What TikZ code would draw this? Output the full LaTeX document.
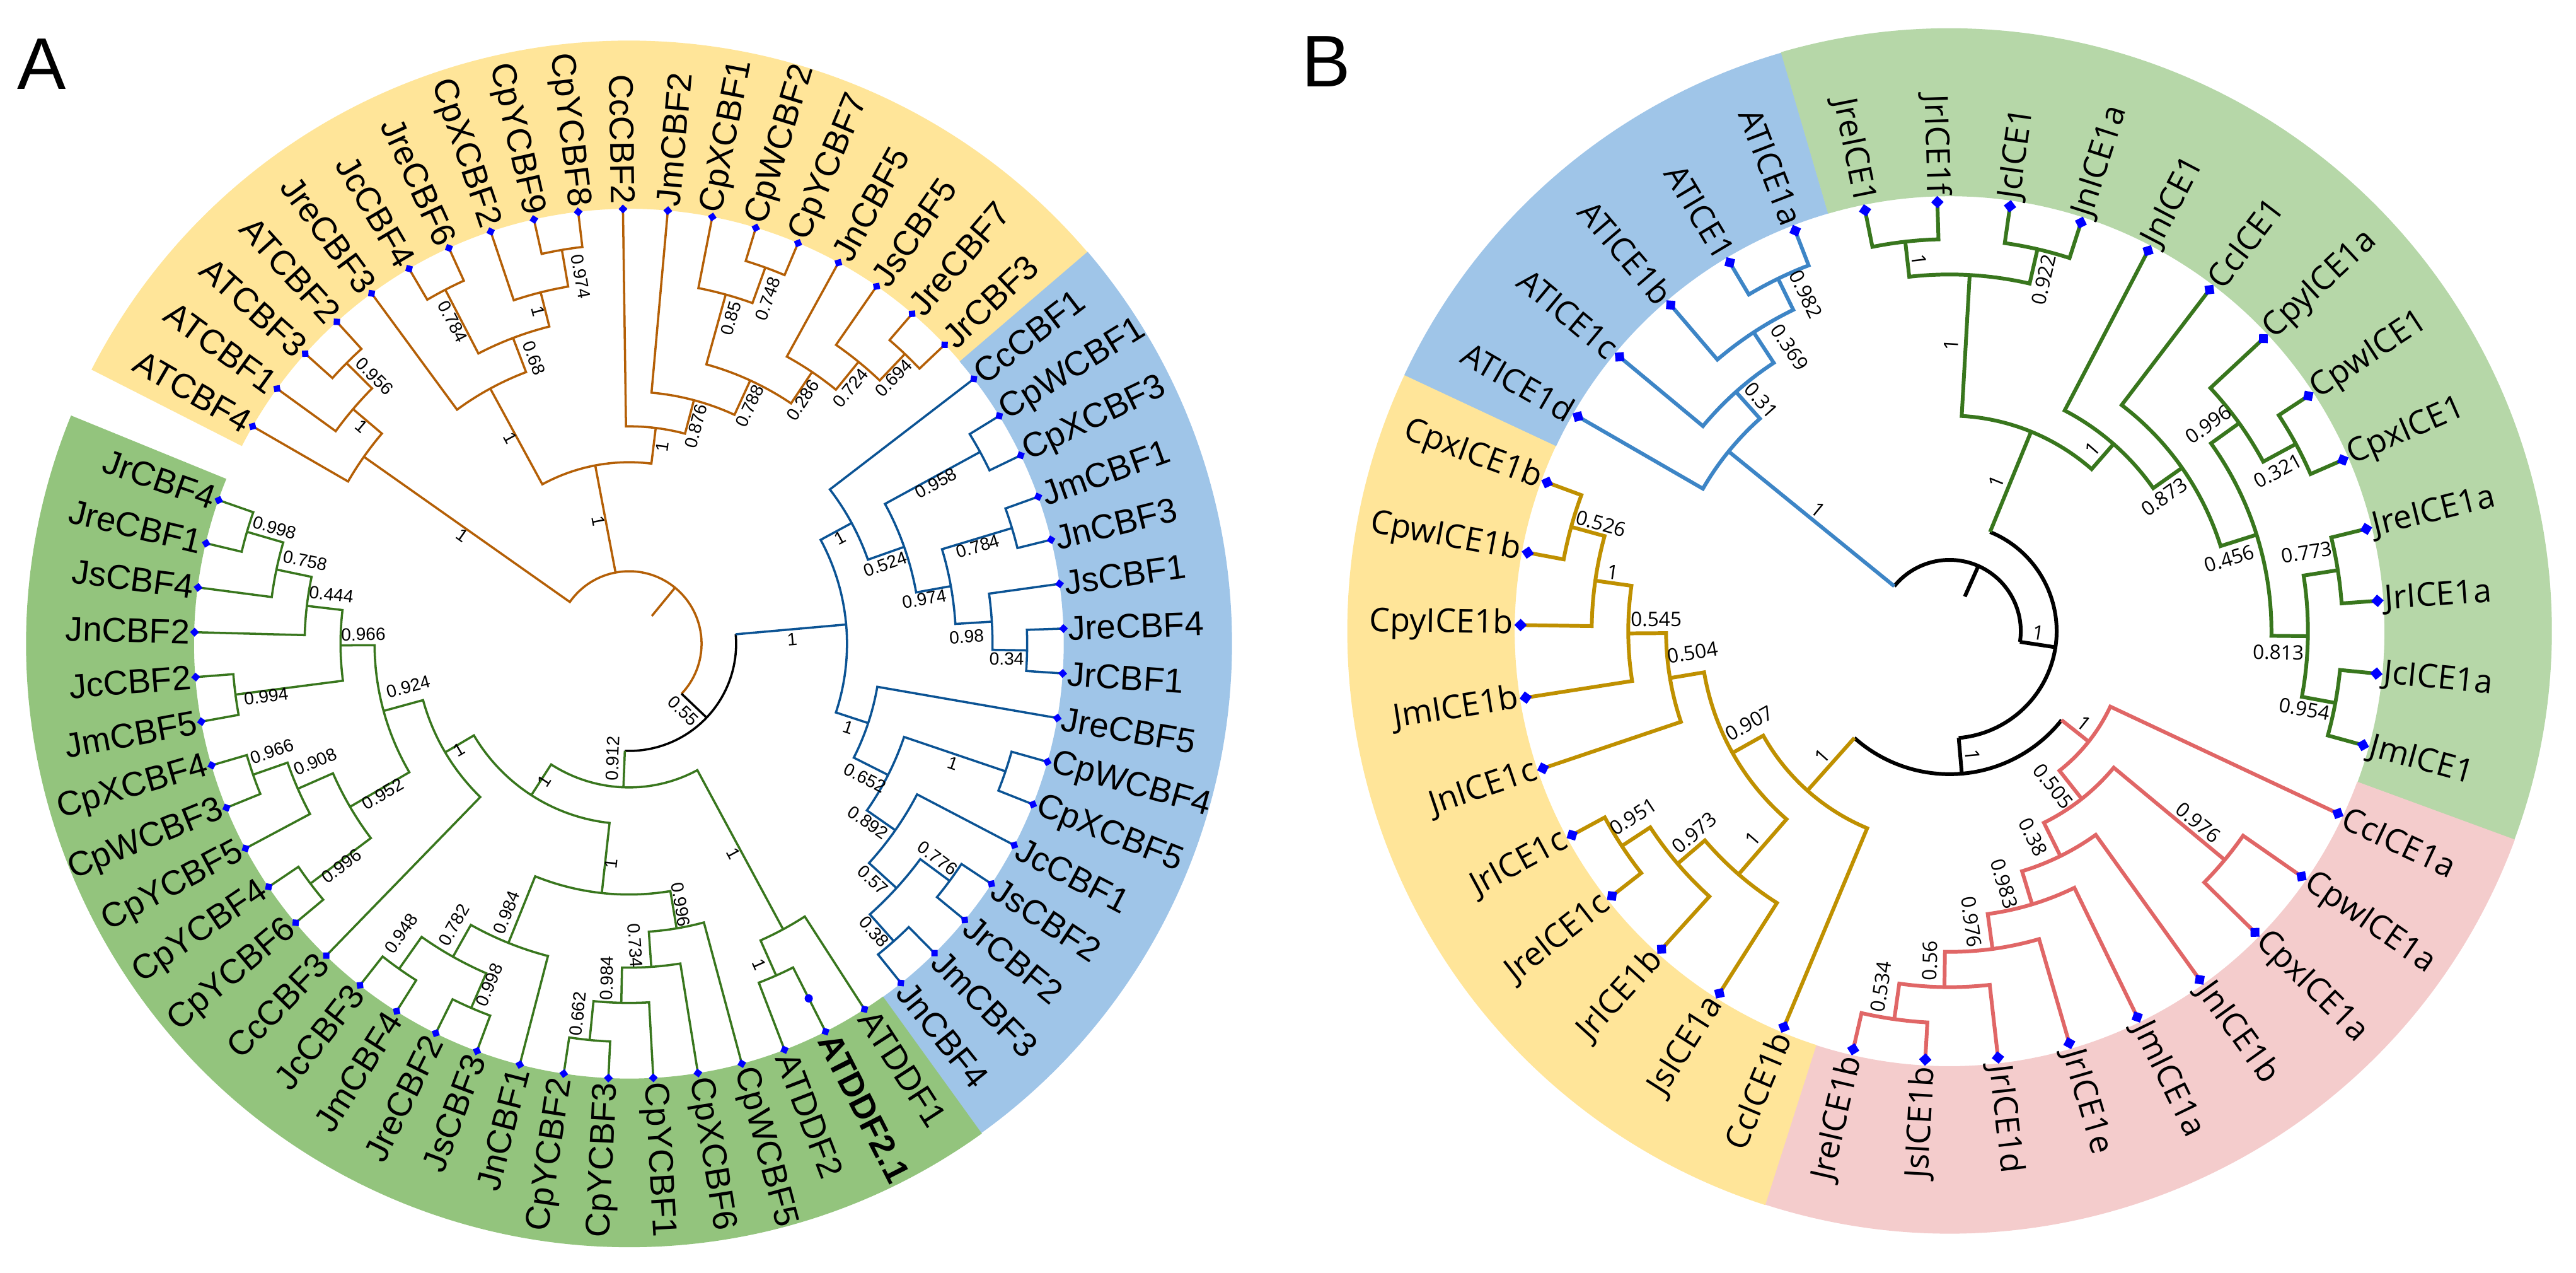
\documentclass[tikz,border=0pt]{standalone}
\usepackage{fontspec}
\setmainfont{Liberation Sans}
\newfontfamily\fB{Open Sans}
\definecolor{bandY}{HTML}{FFE599}
\definecolor{bandBl}{HTML}{9FC5E8}
\definecolor{bandGA}{HTML}{93C47D}
\definecolor{bandGB}{HTML}{B6D7A8}
\definecolor{bandP}{HTML}{F4CCCC}
\definecolor{trO}{HTML}{B45F06}
\definecolor{trBA}{HTML}{0B5394}
\definecolor{trG}{HTML}{38761D}
\definecolor{trBB}{HTML}{3D85C6}
\definecolor{trY}{HTML}{BF9000}
\definecolor{trP}{HTML}{E06666}
\definecolor{mk}{HTML}{0000FF}
\tikzset{
 lblA/.style={inner sep=0pt,font=\fontsize{15.5}{18}\selectfont},
 lblB/.style={inner sep=0pt,font=\fB\fontsize{14.8}{17}\selectfont},
 mkA/.style={fill=mk,inner sep=0pt,minimum size=0.1cm,shape=rectangle},
 mkB/.style={fill=mk,inner sep=0pt,minimum size=0.14cm,shape=rectangle},
 supA/.style={inner sep=0pt,font=\fontsize{8}{9}\selectfont},
 supB/.style={inner sep=0pt,font=\fB\fontsize{9}{10}\selectfont},
 panel/.style={anchor=base west,inner sep=0pt,font=\fontsize{33}{36}\selectfont},
}
\newcounter{spc}
% internal node: radius, angle1, r1, angle2, r2
\newcommand\nd[5]{\draw (#2:#3) -- (#2:#1) arc[start angle=#2,end angle=#4,radius=#1*0.1mm] -- (#4:#5);}
\newcommand\band[4]{\fill[#1] (#2:690) arc[start angle=#2,end angle=#3,radius=69mm] -- (#3:#4) arc[start angle=#3,end angle=#2,radius=#4*0.1mm] -- cycle;}
\newcommand\leaf[7]{%
  \pgfmathsetmacro\lfcos{cos(#4)}%
  \ifdim\lfcos pt<0pt\relax
    \node[#1,anchor=east,rotate=#4+180] (#3) at (#4:#6) {#7};%
  \else
    \node[#1,anchor=west,rotate=#4] (#3) at (#4:#6) {#7};%
  \fi
  \node[#2,rotate=#4+45] (#3m) at (#4:#5) {};}
\newcommand\lfa[3]{\leaf{lblA}{mkA}{#1}{#2}{690}{697}{#3}}
\newcommand\lfb[3]{\leaf{lblB}{mkB}{#1}{#2}{681}{692}{#3}}
\newcommand\spl[5]{%
  \pgfmathsetmacro\lfcos{cos(#2)}%
  \ifdim\lfcos pt<0pt\relax\def\lrot{#2+180}\else\def\lrot{#2}\fi
  \stepcounter{spc}%
  \node[#1,rotate=\lrot] (sp\thespc) at (#3:#4) {#5};}
\newcommand\spa[4]{\spl{supA}{#1}{#2}{#3}{#4}}
\newcommand\spb[4]{\spl{supB}{#1}{#2}{#3}{#4}}
\begin{document}
\begin{tikzpicture}
\useasboundingbox (0,0) rectangle (40.87,20.19);
\node[panel] (labA) at (0.27,18.77) {A};
\node[panel] (labB) at (20.645,18.81) {B};

%================ TREE A =================
\begin{scope}[shift={(9.98cm,9.98cm)},x=0.01cm,y=0.01cm]
\band{bandY}{152.96}{40.48}{957}
\band{bandBl}{40.48}{-54.24}{957}
\band{bandGA}{-54.24}{-202.24}{957}
\begin{scope}[line width=1pt]
 \begin{scope}[trO]
  \nd{632}{138.16}{690}{132.24}{690}
  \nd{575}{144.08}{690}{135.20}{632}
  \nd{515}{150.00}{690}{139.64}{575}
  \nd{633}{120.40}{690}{114.48}{690}
  \nd{634}{102.64}{690}{96.72}{690}
  \nd{575}{108.56}{690}{99.68}{634}
  \nd{519}{117.44}{633}{104.12}{575}
  \nd{461}{126.32}{690}{110.78}{519}
  \nd{635}{73.04}{690}{67.12}{690}
  \nd{575}{78.96}{690}{70.08}{635}
  \nd{635}{49.36}{690}{43.44}{690}
  \nd{577}{55.28}{690}{46.40}{635}
  \nd{520}{61.20}{690}{50.84}{577}
  \nd{460}{74.52}{575}{56.02}{520}
  \nd{400}{84.88}{690}{65.27}{460}
  \nd{345}{90.80}{690}{75.08}{400}
  \nd{288}{118.55}{461}{82.94}{345}
  \draw (144.82:515) -- (144.82:115) arc[start angle=144.82,end angle=-43.59,radius=11.5mm];
  \draw (100.74:115) -- (100.74:288);
  \draw (50.6:57) -- (50.6:115);
 \end{scope}
 \begin{scope}[black]
  \draw (5.06:170) arc[start angle=5.06,end angle=-92.24,radius=17mm];
  \draw (-43.59:115) -- (-43.59:170);
 \end{scope}
 \begin{scope}[trBA]
  \draw (5.06:170) -- (5.06:346);
  \nd{635}{31.60}{690}{25.68}{690}
  \nd{635}{19.76}{690}{13.84}{690}
  \nd{632}{2.00}{690}{-3.92}{690}
  \nd{577}{7.92}{690}{-0.96}{632}
  \nd{519}{16.80}{635}{3.48}{577}
  \nd{463}{28.64}{635}{10.14}{519}
  \nd{402}{37.52}{690}{19.39}{463}
  \nd{631}{-15.76}{690}{-21.68}{690}
  \nd{633}{-33.52}{690}{-39.44}{690}
  \nd{632}{-45.36}{690}{-51.28}{690}
  \nd{575}{-36.48}{633}{-48.32}{632}
  \nd{516}{-27.60}{690}{-42.40}{575}
  \nd{461}{-18.72}{631}{-35.00}{516}
  \nd{400}{-9.84}{690}{-26.86}{461}
  \nd{346}{28.46}{402}{-18.35}{400}
 \end{scope}
 \begin{scope}[trG]
  \draw (-92.24:170) -- (-92.24:228);
  \nd{576}{-63.12}{690}{-69.04}{690}
  \nd{515}{-57.20}{690}{-66.08}{576}
  \nd{632}{-92.72}{690}{-98.64}{690}
  \nd{570}{-86.80}{690}{-95.68}{632}
  \nd{514}{-80.88}{690}{-91.24}{570}
  \nd{458}{-74.96}{690}{-86.06}{514}
  \nd{630}{-110.48}{690}{-116.40}{690}
  \nd{632}{-122.32}{690}{-128.24}{690}
  \nd{570}{-113.44}{630}{-125.28}{632}
  \nd{512}{-104.56}{690}{-119.36}{570}
  \nd{398}{-80.51}{458}{-111.96}{512}
  \nd{633}{-140.08}{690}{-146.00}{690}
  \nd{632}{-157.84}{690}{-163.76}{690}
  \nd{574}{-151.92}{690}{-160.80}{632}
  \nd{513}{-143.04}{633}{-156.36}{574}
  \nd{632}{-199.28}{690}{-193.36}{690}
  \nd{572}{-187.44}{690}{-196.32}{632}
  \nd{515}{-181.52}{690}{-191.88}{572}
  \nd{630}{-175.60}{690}{-169.68}{690}
  \nd{458}{-186.70}{515}{-172.64}{630}
  \nd{404}{-179.67}{458}{-149.70}{513}
  \nd{339}{-164.69}{404}{-134.16}{690}
  \nd{286}{-149.43}{339}{-96.24}{398}
  \nd{228}{-122.84}{286}{-61.64}{515}
 \end{scope}
\end{scope}
\fill[mk] (-63.12:631) circle[radius=0.065cm];
% leaves A
\lfa{a0}{150.00}{ATCBF4}
\lfa{a1}{144.08}{ATCBF1}
\lfa{a2}{138.16}{ATCBF3}
\lfa{a3}{132.24}{ATCBF2}
\lfa{a4}{126.32}{JreCBF3}
\lfa{a5}{120.40}{JcCBF4}
\lfa{a6}{114.48}{JreCBF6}
\lfa{a7}{108.56}{CpXCBF2}
\lfa{a8}{102.64}{CpYCBF9}
\lfa{a9}{96.72}{CpYCBF8}
\lfa{a10}{90.80}{CcCBF2}
\lfa{a11}{84.88}{JmCBF2}
\lfa{a12}{78.96}{CpXCBF1}
\lfa{a13}{73.04}{CpWCBF2}
\lfa{a14}{67.12}{CpYCBF7}
\lfa{a15}{61.20}{JnCBF5}
\lfa{a16}{55.28}{JsCBF5}
\lfa{a17}{49.36}{JreCBF7}
\lfa{a18}{43.44}{JrCBF3}
\lfa{a19}{37.52}{CcCBF1}
\lfa{a20}{31.60}{CpWCBF1}
\lfa{a21}{25.68}{CpXCBF3}
\lfa{a22}{19.76}{JmCBF1}
\lfa{a23}{13.84}{JnCBF3}
\lfa{a24}{7.92}{JsCBF1}
\lfa{a25}{2.00}{JreCBF4}
\lfa{a26}{-3.92}{JrCBF1}
\lfa{a27}{-9.84}{JreCBF5}
\lfa{a28}{-15.76}{CpWCBF4}
\lfa{a29}{-21.68}{CpXCBF5}
\lfa{a30}{-27.60}{JcCBF1}
\lfa{a31}{-33.52}{JsCBF2}
\lfa{a32}{-39.44}{JrCBF2}
\lfa{a33}{-45.36}{JmCBF3}
\lfa{a34}{-51.28}{JnCBF4}
\lfa{a35}{-57.20}{ATDDF1}
\lfa{a36}{-63.12}{\textbf{ATDDF2.1}}
\lfa{a37}{-69.04}{ATDDF2}
\lfa{a38}{-74.96}{CpWCBF5}
\lfa{a39}{-80.88}{CpXCBF6}
\lfa{a40}{-86.80}{CpYCBF1}
\lfa{a41}{-92.72}{CpYCBF3}
\lfa{a42}{-98.64}{CpYCBF2}
\lfa{a43}{-104.56}{JnCBF1}
\lfa{a44}{-110.48}{JsCBF3}
\lfa{a45}{-116.40}{JreCBF2}
\lfa{a46}{-122.32}{JmCBF4}
\lfa{a47}{-128.24}{JcCBF3}
\lfa{a48}{-134.16}{CcCBF3}
\lfa{a49}{-140.08}{CpYCBF6}
\lfa{a50}{-146.00}{CpYCBF4}
\lfa{a51}{-151.92}{CpYCBF5}
\lfa{a52}{-157.84}{CpWCBF3}
\lfa{a53}{-163.76}{CpXCBF4}
\lfa{a54}{-169.68}{JmCBF5}
\lfa{a55}{-175.60}{JcCBF2}
\lfa{a56}{-181.52}{JnCBF2}
\lfa{a57}{-187.44}{JsCBF4}
\lfa{a58}{-193.36}{JreCBF1}
\lfa{a59}{-199.28}{JrCBF4}
% supports A
\spa{135.20}{133.6}{586}{0.956}
\spa{139.64}{140.9}{547}{1}
\spa{144.82}{147}{316}{1}
\spa{117.44}{118.7}{583}{0.784}
\spa{99.68}{97.5}{588}{0.974}
\spa{104.12}{105.3}{547}{1}
\spa{110.78}{108.4}{478}{0.68}
\spa{118.55}{120}{377}{1}
\spa{100.74}{104}{201}{1}
\spa{70.08}{68.1}{590}{0.748}
\spa{74.52}{72.6}{541}{0.85}
\spa{46.40}{45.1}{595}{0.694}
\spa{50.84}{49.1}{537}{0.724}
\spa{56.02}{54.5}{475}{0.286}
\spa{65.27}{63.1}{423}{0.788}
\spa{75.08}{72.9}{361}{0.876}
\spa{82.94}{80.4}{317}{1}
\spa{5.06}{1.5}{259}{1}
\spa{28.46}{26.6}{375}{1}
\spa{19.39}{17.2}{426}{0.524}
\spa{28.64}{27.6}{550}{0.958}
\spa{10.14}{8.6}{474}{0.974}
\spa{16.80}{15.6}{575}{0.784}
\spa{3.48}{1.2}{536}{0.98}
\spa{-0.96}{-2.3}{600}{0.34}
\spa{-18.35}{-20.9}{373}{1}
\spa{-26.86}{-29.6}{431}{0.652}
\spa{-18.72}{-20.3}{548}{1}
\spa{-35.00}{-36.8}{474}{0.892}
\spa{-42.40}{-44.1}{539}{0.57}
\spa{-36.48}{-34.8}{596}{0.776}
\spa{-48.32}{-49.6}{600}{0.38}
\spa{-43.59}{-51.2}{137}{0.55}
\spa{-92.24}{-98.1}{184}{0.912}
\spa{-122.84}{-121.6}{256}{1}
\spa{-61.64}{-63.5}{372}{1}
\spa{-66.08}{-67.9}{549}{1}
\spa{-96.24}{-94.6}{350}{1}
\spa{-111.96}{-114.5}{469}{0.984}
\spa{-119.36}{-121.9}{526}{0.782}
\spa{-113.44}{-112.3}{585}{0.998}
\spa{-125.28}{-128.2}{585}{0.948}
\spa{-80.51}{-78.8}{422}{0.996}
\spa{-86.06}{-88.8}{479}{0.734}
\spa{-91.24}{-93.8}{532}{0.984}
\spa{-95.68}{-97.9}{593}{0.662}
\spa{-149.43}{-148}{318}{1}
\spa{-164.69}{-169}{357}{0.924}
\spa{-149.70}{-148.6}{458}{0.952}
\spa{-156.36}{-159.4}{532}{0.908}
\spa{-143.04}{-142.3}{577}{0.996}
\spa{-160.80}{-163.2}{592}{0.966}
\spa{-179.67}{-182}{422}{0.966}
\spa{-172.64}{-171.8}{582}{0.994}
\spa{-186.70}{-189.4}{479}{0.444}
\spa{-191.88}{-194.4}{531}{0.758}
\spa{-196.32}{-198.1}{592}{0.998}
\end{scope}

%================ TREE B =================
\begin{scope}[shift={(30.93cm,10.18cm)},x=0.01cm,y=0.01cm]
\band{bandBl}{154.86}{106.22}{956}
\band{bandGB}{106.22}{-20.27}{956}
\band{bandP}{-20.27}{-107.84}{956}
\band{bandY}{-107.84}{-205.14}{956}
\begin{scope}[line width=1.7pt]
 \begin{scope}[black]
  \draw (140.88:113) arc[start angle=140.88,end angle=-8.66,radius=11.3mm];
  \draw (66.11:60) -- (66.11:113);
  \draw (-8.66:113) -- (-8.66:170);
  \draw (67.75:170) arc[start angle=67.75,end angle=-85.07,radius=17mm];
  \draw (-85.07:170) -- (-85.07:227);
  \draw (-131.70:227) arc[start angle=-131.70,end angle=-38.44,radius=22.7mm];
 \end{scope}
 \begin{scope}[trBB]
  \draw (140.88:113) -- (140.88:452);
  \nd{622}{120.81}{681}{111.08}{681}
  \nd{567}{130.54}{681}{115.95}{622}
  \nd{509}{140.27}{681}{123.25}{567}
  \nd{452}{150.00}{681}{131.76}{509}
 \end{scope}
 \begin{scope}[trG]
  \draw (67.75:170) -- (67.75:342);
  \nd{622}{101.35}{681}{91.62}{681}
  \nd{622}{81.89}{681}{72.16}{681}
  \nd{566}{96.485}{622}{77.025}{622}
  \nd{625}{33.24}{681}{23.51}{681}
  \nd{566}{42.97}{681}{28.375}{625}
  \nd{624}{13.78}{681}{4.05}{681}
  \nd{623}{-5.68}{681}{-15.41}{681}
  \nd{569}{8.915}{624}{-10.545}{623}
  \nd{511}{35.67}{566}{-0.815}{569}
  \nd{451}{52.70}{681}{17.43}{511}
  \nd{395}{62.43}{681}{35.065}{451}
  \nd{342}{86.755}{566}{48.75}{395}
 \end{scope}
 \begin{scope}[trP]
  \draw (-38.44:227) -- (-38.44:282);
  \nd{622}{-93.24}{681}{-102.97}{681}
  \nd{565}{-83.51}{681}{-98.105}{622}
  \nd{509}{-73.78}{681}{-90.81}{565}
  \nd{453}{-64.05}{681}{-82.29}{509}
  \nd{398}{-54.32}{681}{-73.17}{453}
  \nd{568}{-34.86}{681}{-44.59}{681}
  \nd{339}{-39.725}{568}{-63.75}{398}
  \nd{282}{-25.14}{681}{-51.74}{339}
 \end{scope}
 \begin{scope}[trY]
  \draw (-131.70:227) -- (-131.70:339);
  \nd{623}{159.73}{681}{169.46}{681}
  \nd{568}{164.595}{623}{179.19}{681}
  \nd{510}{171.89}{568}{188.92}{681}
  \nd{450}{180.405}{510}{198.65}{681}
  \nd{622}{-151.62}{681}{-141.89}{681}
  \nd{568}{-146.755}{622}{-132.16}{681}
  \nd{511}{-139.46}{568}{-122.43}{681}
  \nd{395}{-170.47}{450}{-130.94}{511}
  \nd{339}{-150.71}{395}{-112.70}{681}
 \end{scope}
\end{scope}
\lfb{b0}{150.00}{ATICE1d}
\lfb{b1}{140.27}{ATICE1c}
\lfb{b2}{130.54}{ATICE1b}
\lfb{b3}{120.81}{ATICE1}
\lfb{b4}{111.08}{ATICE1a}
\lfb{b5}{101.35}{JreICE1}
\lfb{b6}{91.62}{JrICE1f}
\lfb{b7}{81.89}{JcICE1}
\lfb{b8}{72.16}{JnICE1a}
\lfb{b9}{62.43}{JnICE1}
\lfb{b10}{52.70}{CcICE1}
\lfb{b11}{42.97}{CpyICE1a}
\lfb{b12}{33.24}{CpwICE1}
\lfb{b13}{23.51}{CpxICE1}
\lfb{b14}{13.78}{JreICE1a}
\lfb{b15}{4.05}{JrICE1a}
\lfb{b16}{-5.68}{JcICE1a}
\lfb{b17}{-15.41}{JmICE1}
\lfb{b18}{-25.14}{CcICE1a}
\lfb{b19}{-34.86}{CpwICE1a}
\lfb{b20}{-44.59}{CpxICE1a}
\lfb{b21}{-54.32}{JnICE1b}
\lfb{b22}{-64.05}{JmICE1a}
\lfb{b23}{-73.78}{JrICE1e}
\lfb{b24}{-83.51}{JrICE1d}
\lfb{b25}{-93.24}{JsICE1b}
\lfb{b26}{-102.97}{JreICE1b}
\lfb{b27}{-112.70}{CcICE1b}
\lfb{b28}{-122.43}{JsICE1a}
\lfb{b29}{-132.16}{JrICE1b}
\lfb{b30}{-141.89}{JreICE1c}
\lfb{b31}{-151.62}{JrICE1c}
\lfb{b32}{-161.35}{JnICE1c}
\lfb{b33}{-171.08}{JmICE1b}
\lfb{b34}{-180.81}{CpyICE1b}
\lfb{b35}{-190.54}{CpwICE1b}
\lfb{b36}{-200.27}{CpxICE1b}
\spb{140.88}{137.3}{284}{1}
\spb{131.76}{129.2}{473}{0.31}
\spb{123.25}{119.4}{517}{0.369}
\spb{115.95}{113.1}{581}{0.982}
\spb{96.485}{94.7}{591}{1}
\spb{77.025}{75}{577}{0.922}
\spb{86.755}{89.6}{454}{1}
\spb{67.75}{72.7}{249}{1}
\spb{48.75}{51.8}{367}{1}
\spb{35.065}{32}{402}{0.873}
\spb{17.43}{14.5}{459}{0.456}
\spb{35.67}{38.6}{526}{0.996}
\spb{28.375}{26}{580}{0.321}
\spb{-0.815}{-3.7}{523}{0.813}
\spb{8.915}{12.4}{581}{0.773}
\spb{-10.545}{-12.4}{577}{0.954}
\spb{-8.66}{-1.2}{141}{1}
\spb{-85.07}{-79.6}{200}{1}
\spb{-38.44}{-34.3}{259}{1}
\spb{-51.74}{-56.2}{296}{0.505}
\spb{-39.725}{-37.6}{498}{0.976}
\spb{-63.75}{-67.9}{353}{0.38}
\spb{-73.17}{-77.8}{410}{0.983}
\spb{-82.29}{-85.7}{463}{0.976}
\spb{-90.81}{-93.4}{524}{0.56}
\spb{-98.105}{-100.9}{575}{0.534}
\spb{-131.70}{-135.6}{283}{1}
\spb{-150.71}{-155.3}{350}{0.907}
\spb{-170.47}{-175.2}{409}{0.504}
\spb{180.405}{177.7}{466}{0.545}
\spb{171.89}{170.1}{542}{1}
\spb{164.595}{162.9}{579}{0.526}
\spb{-130.94}{-133.4}{454}{1}
\spb{-139.46}{-141.7}{516}{0.973}
\spb{-146.755}{-149.6}{582}{0.951}
\end{scope}
\end{tikzpicture}
\end{document}
